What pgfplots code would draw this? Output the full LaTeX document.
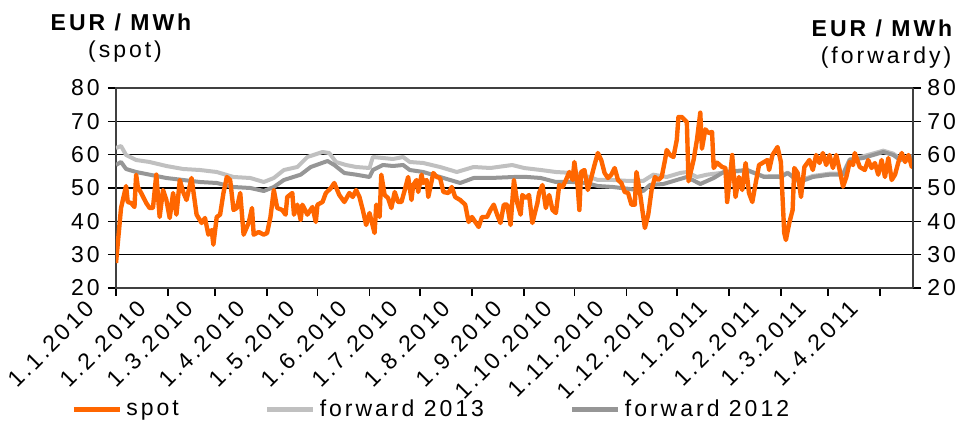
\documentclass[border=0pt]{standalone}
\usepackage{fontspec}
\setmainfont[LetterSpace=13]{Liberation Sans}
\usepackage{pgfplots}
\pgfplotsset{compat=1.18}
\definecolor{spotc}{RGB}{255,102,0}
\definecolor{fwdA}{RGB}{192,192,192}
\definecolor{fwdB}{RGB}{150,150,150}

\begin{document}
\begin{tikzpicture}[font=\fontsize{11.5}{13.5}\selectfont]
% horizontal grid lines at 30,40,...,70 (axis box is 398.5pt x 100pt, 20..80)
\foreach \g in {1,...,5}{
 \draw[black,line width=0.8pt] (0pt,\g*16.6667pt) -- (398.5pt,\g*16.6667pt);
}
\begin{axis}[name=ax,at={(0,0)},anchor=south west,
 scale only axis,width=398.5pt,height=100pt,
 xmin=0,xmax=474.7,ymin=20,ymax=80,
 xtick={0,31,59,90,120,151,181,212,243,273,304,334,365,396,424,455},
 xticklabels={1.1.2010,1.2.2010,1.3.2010,1.4.2010,1.5.2010,1.6.2010,1.7.2010,1.8.2010,1.9.2010,1.10.2010,1.11.2010,1.12.2010,1.1.2011,1.2.2011,1.3.2011,1.4.2011},
 ytick={20,30,...,80},
 xtick pos=bottom,ytick pos=left,tick align=outside,
 major tick length=4pt,
 every tick/.style={black,line width=0.8pt},
 x tick label style={xshift=-16pt,yshift=0pt,rotate=45,anchor=north east,inner sep=1pt},
 y tick label style={inner sep=0pt,xshift=-4pt},
 /pgf/number format/assume math mode=true,
 axis line style={black!75,line width=0.7pt},
 legend columns=3,
 legend style={at={(axis description cs:-0.0565,-0.61)},anchor=west,draw=none,fill=none,inner sep=0pt,
  /tikz/every even column/.append style={column sep=41pt}},
 legend image code/.code={\draw[#1,line width=2.5pt] (0pt,0pt)--(23pt,0pt);},
 legend cell align=left]

\addlegendimage{spotc}\addlegendentry{spot}
\addlegendimage{fwdA}\addlegendentry{forward 2013}
\addlegendimage{fwdB}\addlegendentry{forward 2012}

% forward 2013
\addplot[fwdA,line width=2pt,line join=round,forget plot] coordinates {
(0,62) (3,62.6) (6,59.9) (12,58.4) (20,57.8) (30,56.6) (40,55.7) (50,55.4) (60,54.8) (70,53.3)
(80,53) (88,51.8) (94,53) (100,55.4) (108,56.3) (114,59.3) (123,60.8) (127,60.5) (131,57.8) (137,56.9)
(143,56.3) (151,56) (153,59.3) (159,59) (165,58.7) (171,59.3) (175,57.8) (183,57.5) (193,56.3) (203,54.8)
(213,56.3) (223,56) (236,56.9) (243,56) (253,55.4) (262,54.8) (272,54.5) (282,53.3) (287,52.4) (296,52.4)
(306,52.1) (314,52.1) (320,54) (328,53.3) (336,54.5) (340,54.8) (346,53.3) (352,54) (360,54.5) (364,54.8)
(376,55.2) (386,53.5) (396,53.6) (400,54.6) (407,52.2) (415,53.6) (425,54.3) (433,54.3) (437,58.6) (445,59.5)
(457,61.2) (463,60.3) (467,58.8) (475,59.6)};

% forward 2012
\addplot[fwdB,line width=2pt,line join=round,forget plot] coordinates {
(0,56.9) (3,57.8) (6,55.7) (12,54.8) (20,54) (30,53) (40,52.4) (50,51.8) (60,51.5) (70,50.3)
(80,50) (88,49.1) (94,50.3) (100,52.4) (110,54) (116,56.3) (126,58.1) (130,56.9) (136,54.5) (143,54)
(151,53.3) (153,55.4) (159,56.9) (165,56.6) (171,56.9) (175,55.4) (183,54.8) (193,53.3) (205,51.5) (213,53)
(223,53) (237,53.3) (245,53.3) (253,53) (262,51.8) (272,51.8) (280,51.5) (287,50.6) (296,50.3) (306,49.7)
(314,49.1) (318,50.9) (326,51.2) (334,52.4) (340,53.3) (348,51.2) (356,53) (362,54.8) (376,55.4) (386,53.3)
(396,53.3) (400,54.5) (407,51.8) (415,53.3) (425,54) (433,54) (437,58.4) (445,59) (457,60.8) (463,59.9)
(467,58.4) (475,59.3)};

% spot
\addplot[spotc,line width=2.2pt,line join=round,forget plot] coordinates {
(0,27.5) (3,44) (6,50.6) (7,45.8) (9,45.5) (11,44.3) (12,54) (13,50.3) (15,48.5) (18,45.5)
(20,44) (22,44) (24,54) (26,41.3) (28,49.4) (30,46.4) (32,41) (34,48.5) (36,42) (38,52.4)
(40,48.8) (42,46.4) (45,53) (48,42) (51,39.5) (53,41) (55,36) (57,37.4) (58,33) (60,41.3)
(62,42) (64,48.5) (66,53.3) (68,52.4) (70,43.4) (72,44) (74,48.5) (76,36) (79,39.5) (81,44)
(82,36) (85,36.8) (88,36) (90,36.5) (92,41.3) (94,49.4) (96,44) (99,43.4) (101,42) (102,47.3)
(105,48.5) (106,42) (108,45) (110,40.4) (111,45) (114,42) (117,44.3) (119,39.8) (120,45) (123,45.8)
(125,48.5) (128,50) (130,51.5) (133,47.9) (136,45.8) (139,48.5) (141,47.3) (143,49.4) (145,47.3) (147,43.4)
(149,38.9) (151,42.5) (154,36.5) (155,45) (157,41.3) (158,54) (160,47.9) (162,47) (164,44) (166,48.8)
(168,45.8) (170,45.8) (172,49.4) (174,53.3) (176,46.4) (177,50.9) (179,52.4) (180,48.8) (182,54) (183,51.5)
(185,52.4) (186,47.3) (189,54.5) (191,53.3) (193,53) (195,48.8) (198,48.5) (200,50.3) (202,47.3) (205,46.4)
(208,45) (210,39.8) (212,41.3) (214,39.8) (216,38.3) (218,41.3) (221,41.3) (223,43.4) (225,45) (227,42)
(229,39.5) (231,45) (233,45) (235,38.9) (237,52.4) (239,45.5) (241,42) (242,47.9) (244,47) (246,47.9)
(248,39.5) (251,45.5) (252,48.5) (254,50.9) (256,44) (258,47.9) (260,43.4) (262,42.5) (264,50.9) (266,50.3)
(268,52.4) (270,54.8) (272,52.4) (273,57.8) (275,50.3) (276,43.4) (277,54.8) (279,55.4) (281,49.4) (283,53)
(285,56.9) (287,60.5) (289,58.4) (291,54.5) (293,53) (295,54) (297,56) (299,52.4) (301,51.5) (303,48.8)
(305,48.5) (307,45) (309,45) (310,54.8) (312,48.8) (315,38) (317,42) (319,49.4) (321,53.3) (323,52.4)
(325,53.3) (327,58.4) (328,61.4) (330,59.9) (332,59.3) (334,64.4) (335,71.3) (337,71.3) (340,69.8) (341,52)
(344,58.4) (346,64.4) (348,72.6) (349,61.8) (351,67.6) (353,66.5) (355,66.8) (356,56) (358,57.6) (361,56.3)
(363,56) (364,45.8) (366,54.8) (367,59.9) (369,47.3) (371,53.3) (373,49.4) (375,57.5) (377,48.5) (379,45.8)
(381,51.5) (383,56.9) (386,57.8) (388,58.4) (389,55.4) (391,59.9) (394,62.3) (396,57.8) (398,36.5) (399,34.4)
(401,39.5) (403,43.4) (404,56) (406,54.5) (408,47.3) (410,56.3) (413,58.4) (415,55.4) (417,59.9) (419,57.5)
(421,60.5) (423,56.9) (425,59.9) (427,56) (429,59.9) (431,55.4) (433,50.4) (435,53.3) (437,57.8) (439,56.9)
(440,60.5) (443,56.3) (446,55.4) (448,58.4) (450,56) (452,57.5) (454,54) (456,58.4) (458,53.3) (460,59)
(462,52.4) (464,54) (466,57.8) (468,60.5) (470,57.8) (472,59.9) (474,56.3) (474.7,58)};
\end{axis}

\begin{axis}[at={(0,0)},anchor=south west,
 scale only axis,width=398.5pt,height=100pt,
 xmin=0,xmax=474.7,ymin=20,ymax=80,
 axis x line=none,axis y line*=right,
 ytick={20,30,...,80},tick align=outside,
 major tick length=4pt,every tick/.style={black,line width=0.8pt},
 y axis line style={black!75,line width=0.7pt},
 y tick label style={inner sep=0pt,xshift=3pt},
 /pgf/number format/assume math mode=true]
\end{axis}

\node[font=\bfseries\fontsize{11.5}{13.5}\selectfont] at (2.5pt,133pt) {EUR / MWh};
\node at (4.5pt,118pt) {(spot)};
\node[font=\bfseries\fontsize{11.5}{13.5}\selectfont] at (383pt,130pt) {EUR / MWh};
\node at (385pt,115pt) {(forwardy)};

\pgfresetboundingbox
\path[use as bounding box] (-58pt,-71.5pt) rectangle (426pt,144pt);
\end{tikzpicture}
\end{document}
